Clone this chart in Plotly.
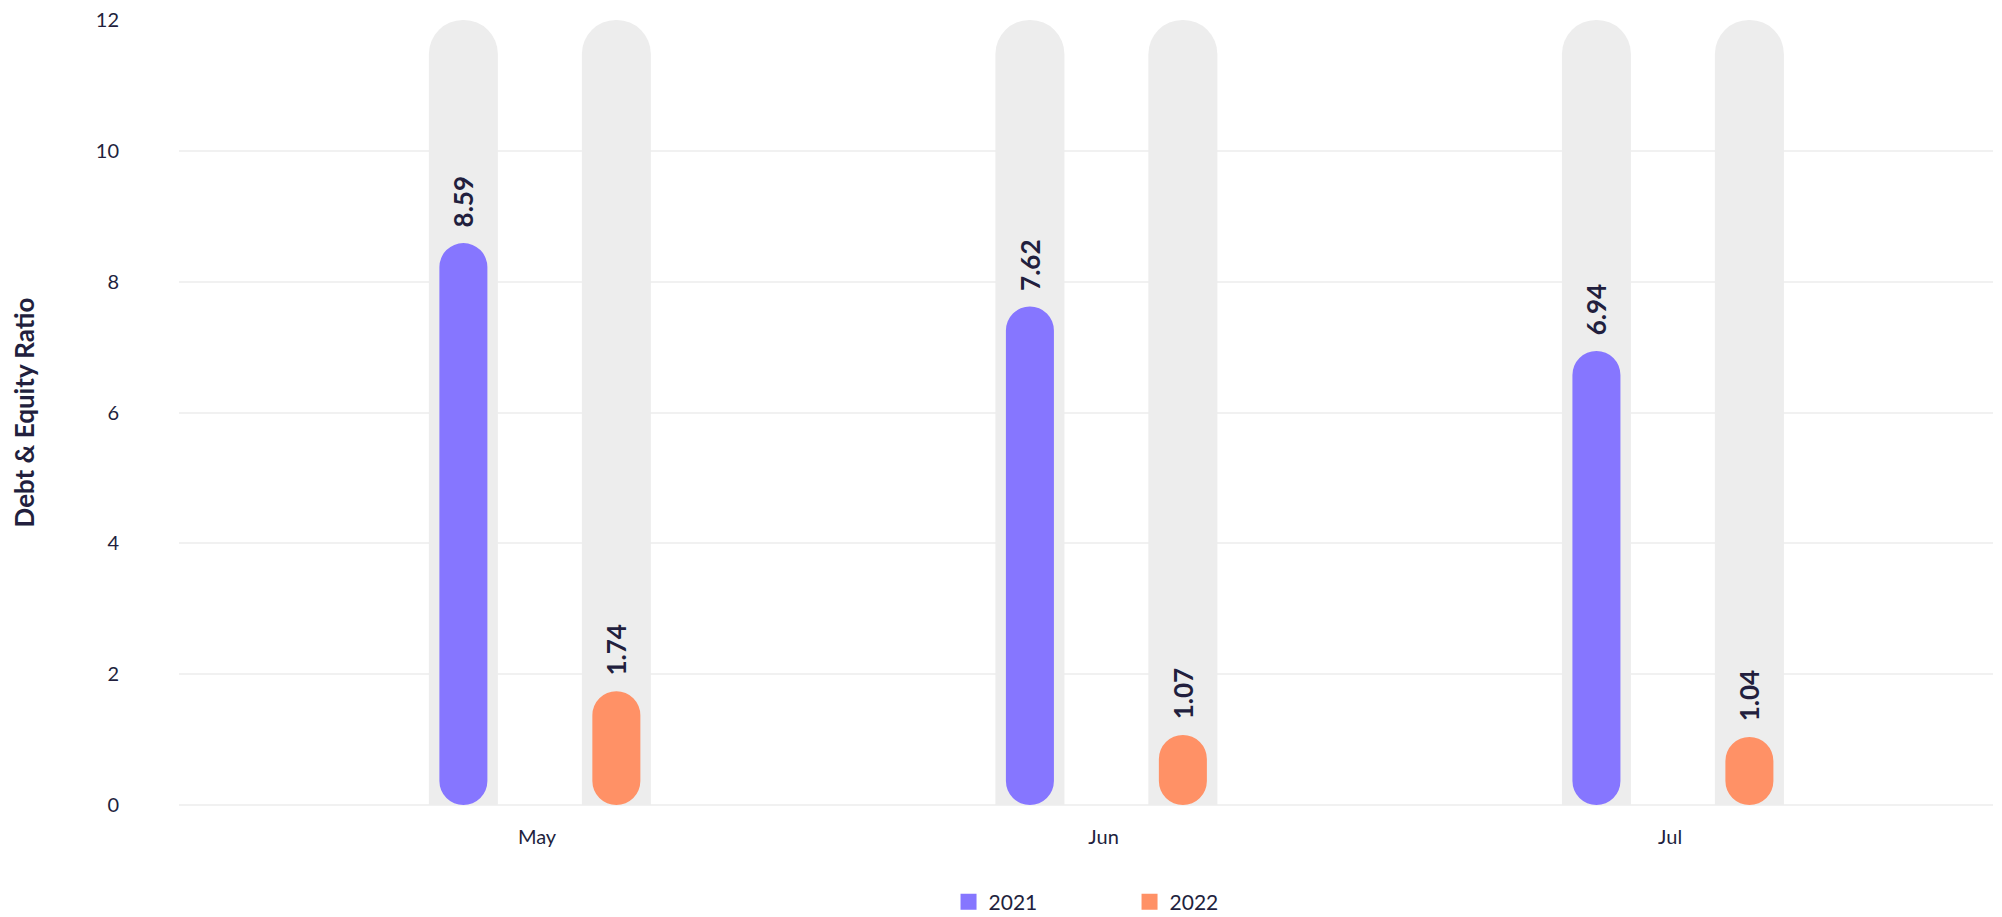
import plotly.graph_objects as go

# data
months = ["May", "Jun", "Jul"]
ratio_2021 = [8.59, 7.62, 6.94]
ratio_2022 = [1.74, 1.07, 1.04]
series_names = ["2021", "2022"]

# styling
PURPLE = "#8676FF"
ORANGE = "#FF9166"
TRACK = "#EDEDED"
INK = "#221F3E"
FONT = "Lato"

Y_MAX = 12
CAT_PX = 566.5        # px per category step
track_w = 69 / CAT_PX
bar_w = 48 / CAT_PX
centers = [-0.13, 0.14]

fig = go.Figure()

# grey tracks behind each bar
for c in centers:
    fig.add_trace(go.Bar(
        x=months, y=[Y_MAX] * len(months),
        width=track_w, offset=c - track_w / 2,
        marker=dict(color=TRACK, line=dict(width=0), cornerradius="50%"),
        showlegend=False, hoverinfo="skip"
    ))

for name, vals, color, c in zip(series_names, [ratio_2021, ratio_2022], [PURPLE, ORANGE], centers):
    # pill shaped bar (a tiny non-zero base rounds both ends)
    fig.add_trace(go.Bar(
        x=months, y=vals, base=[1e-6] * len(vals),
        width=bar_w, offset=c - bar_w / 2, name=name,
        marker=dict(color=color, line=dict(width=0), cornerradius="50%"),
        text=["\u00a0\u00a0" + f"{v:.2f}" for v in vals], textposition="outside", textangle=-90,
        constraintext="none",
        outsidetextfont=dict(family=FONT, size=26, color=INK, weight="bold"),
        cliponaxis=False, showlegend=False,
        hovertemplate="%{x}: %{y}<extra>" + name + "</extra>"
    ))
    # legend swatch
    fig.add_trace(go.Scatter(
        x=[None], y=[None], mode="markers", name=name,
        marker=dict(symbol="square", size=16, color=color)
    ))

# the page body adds an 8px offset, so the figure is 8px smaller than the window
fig.update_layout(
    width=1994, height=909,
    barmode="overlay",
    plot_bgcolor="white", paper_bgcolor="white",
    margin=dict(l=171, r=9, t=12, b=112),
    font=dict(family=FONT, size=20, color=INK),
    xaxis=dict(
        range=[-0.632, 2.57], showgrid=False, showline=False, zeroline=False,
        ticks="", ticklabelstandoff=18, tickfont=dict(size=20, color=INK),
        automargin=False
    ),
    yaxis=dict(
        range=[0, Y_MAX], dtick=2, showgrid=True, gridcolor="#F1F1F1", gridwidth=2,
        zeroline=True, zerolinecolor="#F1F1F1", zerolinewidth=2, showline=False,
        ticks="", ticklabelstandoff=59, tickfont=dict(size=20, color=INK),
        ticklabeloverflow="allow", automargin=False,
        title=dict(text="Debt & Equity Ratio", standoff=70,
                   font=dict(size=26, color=INK, weight="bold"))
    ),
    legend=dict(
        orientation="h", x=0.524, xanchor="center",
        yref="container", y=0.0165, yanchor="middle",
        font=dict(size=21, color=INK), entrywidth=136, itemwidth=30
    ),
    showlegend=True
)

fig.write_html("out.html")
